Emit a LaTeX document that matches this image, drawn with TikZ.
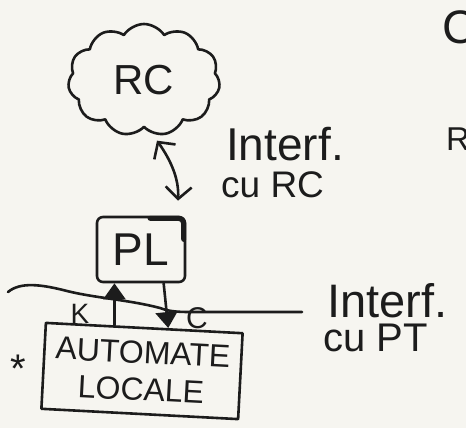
\documentclass[tikz,border=0pt]{standalone}
\usepackage{fontspec}
\setmainfont{Liberation Sans}
\usetikzlibrary{shapes.symbols,arrows.meta,calc}
\definecolor{ink}{HTML}{1C1C1C}
\definecolor{paper}{HTML}{F6F5F0}
\begin{document}
\begin{tikzpicture}[x=1pt,y=-1pt,line join=round,line cap=round,
  ln/.style={draw=ink,line width=2.6pt},
  fs/.style={font=\fontsize{#1}{#1}\selectfont},
  lbl/.style={text=ink,inner sep=0pt},
  solidarrow/.style={ln,-{Triangle[length=16pt,width=22pt]}},
  bidir/.style={ln,{Straight Barb[length=12pt,width=26pt]}-{Straight Barb[length=12pt,width=26pt]}}
]
\fill[paper] (0,0) rectangle (466,428);
\useasboundingbox (0,0) rectangle (466,428);

% cloud
\node[cloud,ln,cloud puffs=11,cloud puff arc=115,aspect=1.35,
      minimum width=152pt,minimum height=112pt,text=ink,fs=42] (rc) at (144,80) {RC};

% PL box
\node[ln,rounded corners=6pt,minimum width=88pt,minimum height=65pt,text=ink,fs=46] (pl) at (141,249.5) {PL};
\draw[draw=ink,line width=5pt,rounded corners=5pt]
   ($(pl.north west)!0.6!(pl.north east)+(0,2.6)$) -- ($(pl.north east)+(-2.6,2.6)$)
   -- ($(pl.north east)!0.35!(pl.south east)+(-2.6,0)$);

% automate locale box
\node[ln,rotate=-3,minimum width=197pt,minimum height=86pt,text=ink,align=center,
      inner sep=2pt,font=\fontsize{32}{37}\selectfont] (al) at (142,371) {AUTOMATE\\LOCALE};

% interface line with PT
\draw[ln] (8,292) .. controls (20,282) and (40,284) .. (67,291)
  .. controls (95,298) and (130,300) .. (160,308)
  .. controls (168,311) and (175,312) .. (190,312) -- (302,312);

% K and C connectors
\coordinate (kb) at ($(al.north west)!0.35!(al.north east)$);
\coordinate (ct) at ($(pl.south west)!0.75!(pl.south east)$);
\draw[solidarrow] (kb) -- (kb |- pl.south);
\draw[solidarrow] (ct) -- ($(al.north west)!0.62!(al.north east)$);

% RC <-> PL
\coordinate (ra) at ($(rc.south)+(13,12)$);
\coordinate (pa) at ($(pl.north)+(37,-15)$);
\draw[bidir] (ra) .. controls (172,162) and (179,180) .. (pa);

% labels
\node[lbl,fs=28,anchor=center] (k) at (80,314) {K};
\node[lbl,fs=30,anchor=center] (c) at (197,318) {C};
\node[lbl,fs=40,anchor=center] (star) at (18,369) {*};

\node[lbl,fs=46,anchor=base west] (ifrc) at (226,160) {Interf.};
\node[lbl,fs=37,anchor=base west] (curc) at (221,197) {cu RC};
\node[lbl,fs=47,anchor=base west] (ifpt) at (327,317) {Interf.};
\node[lbl,fs=40,anchor=base west] (cupt) at (323,351) {cu PT};

% partial letters at the right edge
\node[lbl,fs=47,anchor=west] (pc) at (442,27) {C};
\node[lbl,fs=33,anchor=west] (pr) at (446,139) {R};
\end{tikzpicture}
\end{document}
